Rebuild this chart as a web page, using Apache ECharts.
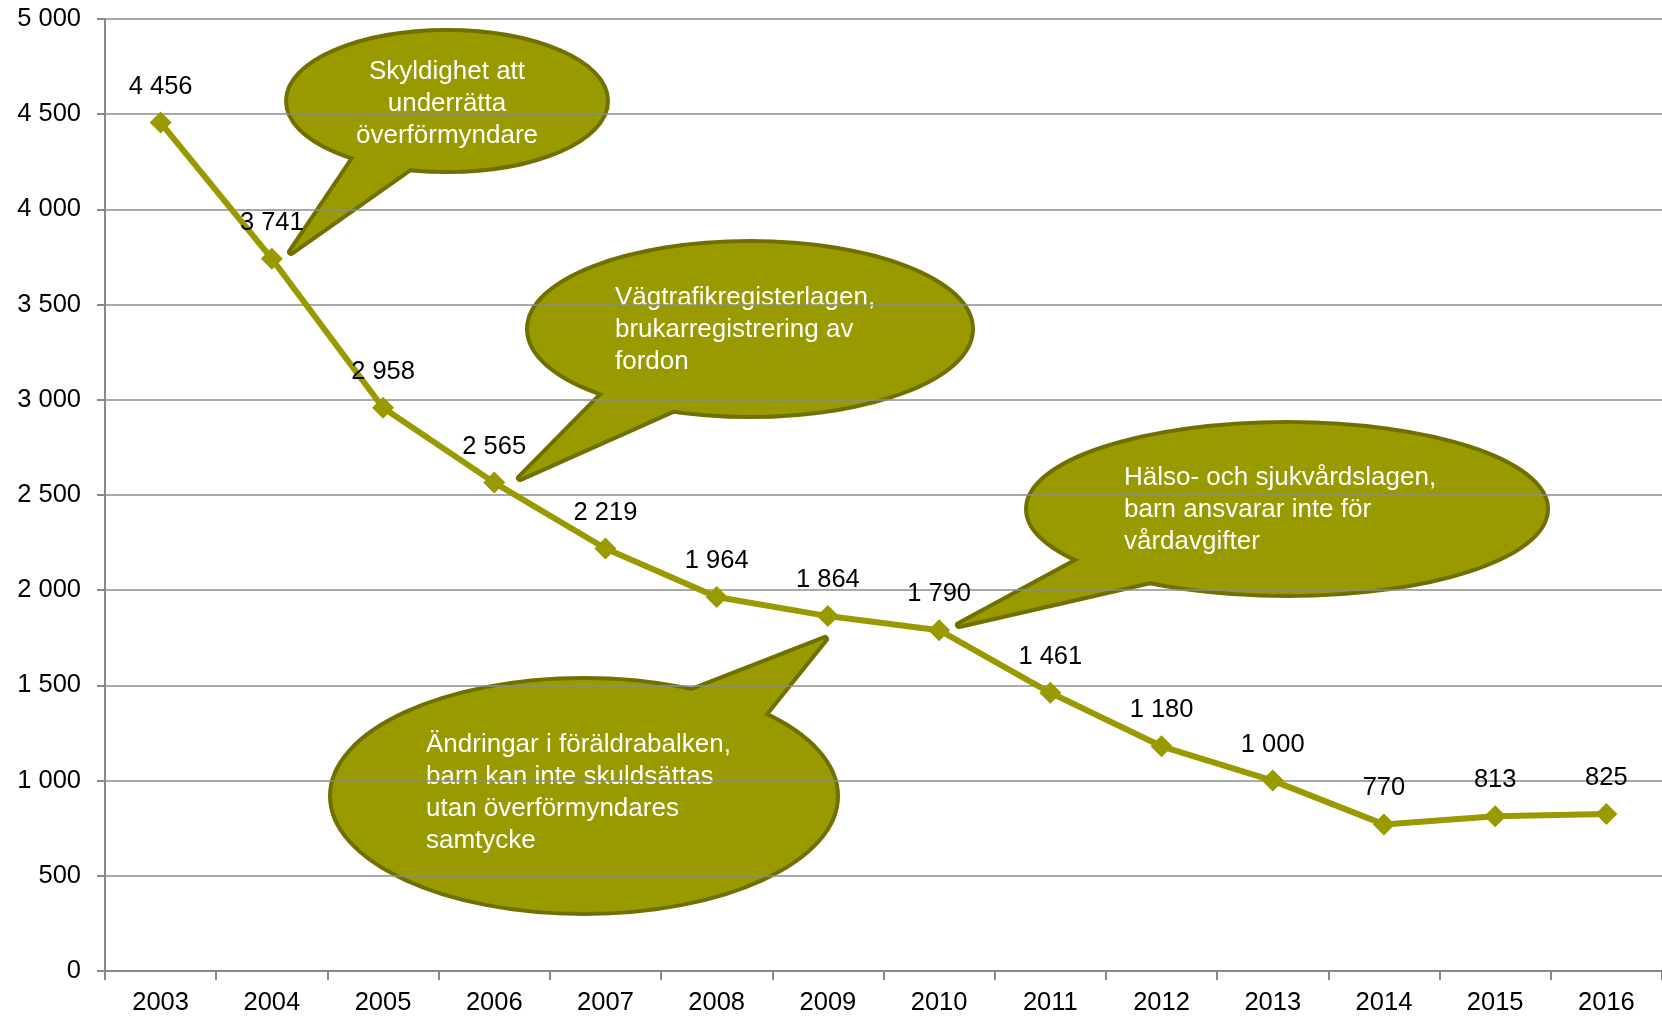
<!DOCTYPE html>
<html>
<head>
<meta charset="utf-8">
<script src="https://cdn.jsdelivr.net/npm/echarts@6/dist/echarts.min.js"></script>
<style>
  html, body { margin: 0; padding: 0; background: #fff; }
  #chart { width: 1662px; height: 1017px; }
</style>
</head>
<body>
<div id="chart"></div>
<script>
const years = ['2003', '2004', '2005', '2006', '2007', '2008', '2009', '2010', '2011', '2012', '2013', '2014', '2015', '2016'];
const counts = [4456, 3741, 2958, 2565, 2219, 1964, 1864, 1790, 1461, 1180, 1000, 770, 813, 825];

const callouts = [
    { lines: ['Skyldighet att', 'underrätta', 'överförmyndare'], align: 'center' },
    { lines: ['Vägtrafikregisterlagen,', 'brukarregistrering av', 'fordon'], align: 'left' },
    { lines: ['Hälso- och sjukvårdslagen,', 'barn ansvarar inte för', 'vårdavgifter'], align: 'left' },
    { lines: ['Ändringar i föräldrabalken,', 'barn kan inte skuldsättas', 'utan överförmyndares', 'samtycke'], align: 'left' }
];

const olive = '#999900';
const oliveDark = '#707000';
const font = '"Liberation Sans", Arial, sans-serif';

// speech bubbles in pixels: ellipse, tail (two points on the rim + tip), text anchor
const bubbleShapes = [
    { cx: 447, cy: 101, rx: 159, ry: 69, rim: [[355, 157], [413, 166]], tip: [291, 252], tx: 447, ty: 72 },
    { cx: 750, cy: 329, rx: 221, ry: 86, rim: [[605, 392], [677, 408]], tip: [520, 478], tx: 615, ty: 298 },
    { cx: 1287, cy: 509, rx: 259, ry: 85, rim: [[1081, 559], [1155, 580]], tip: [959, 625], tx: 1124, ty: 478 },
    { cx: 584, cy: 796, rx: 252, ry: 116, rim: [[684, 694], [763, 716]], tip: [825, 639], tx: 426, ty: 745 }
];

function fmt(v) {
    return String(v).replace(/\B(?=(\d{3})+(?!\d))/g, ' ');
}

function bubble(c, s) {
    // push the rim points a bit into the ellipse so the tail joins it cleanly
    const inner = s.rim.map(p => [p[0] + (p[0] - s.tip[0]) * 0.2, p[1] + (p[1] - s.tip[1]) * 0.2]);
    const tail = [inner[0], s.tip, inner[1]];
    const ell = { cx: s.cx, cy: s.cy, rx: s.rx, ry: s.ry };
    const children = [
        { type: 'ellipse', shape: ell, style: { fill: olive, stroke: oliveDark, lineWidth: 8 } },
        { type: 'polygon', shape: { points: tail }, style: { fill: olive, stroke: oliveDark, lineWidth: 8, lineJoin: 'round' } },
        { type: 'ellipse', shape: ell, style: { fill: olive } },
        { type: 'polygon', shape: { points: tail }, style: { fill: olive } }
    ];
    c.lines.forEach((line, i) => {
        children.push({
            type: 'text',
            x: s.tx,
            y: s.ty + i * 32,
            style: {
                text: line, fill: '#fff', fontSize: 26, fontFamily: font,
                align: c.align, verticalAlign: 'middle'
            }
        });
    });
    return { type: 'group', z: 100, children: children };
}

const chart = echarts.init(document.getElementById('chart'));
chart.setOption({
    animation: false,
    backgroundColor: '#fff',
    grid: { left: 105, right: 0, top: 19, bottom: 46, containLabel: false },
    xAxis: {
        type: 'category',
        data: years,
        boundaryGap: true,
        axisLine: { lineStyle: { color: '#888', width: 2 } },
        axisTick: { show: true, length: 9, lineStyle: { color: '#888', width: 2 } },
        axisLabel: { color: '#000', fontSize: 25.5, fontFamily: font, margin: 19 }
    },
    yAxis: {
        type: 'value',
        min: 0,
        max: 5000,
        interval: 500,
        axisLine: { show: true, lineStyle: { color: '#888', width: 2 } },
        axisTick: { show: true, length: 8, lineStyle: { color: '#888', width: 2 } },
        axisLabel: { color: '#000', fontSize: 25.5, fontFamily: font, margin: 24, formatter: fmt },
        splitLine: { lineStyle: { color: '#8c8c8c', width: 1.5 } }
    },
    series: [{
        type: 'line',
        data: counts,
        symbol: 'diamond',
        symbolSize: 22,
        lineStyle: { color: olive, width: 6 },
        itemStyle: { color: olive },
        label: {
            show: true,
            position: 'top',
            distance: 12,
            color: '#000',
            fontSize: 25.5,
            fontFamily: font,
            formatter: p => fmt(p.value)
        }
    }],
    graphic: callouts.map((c, i) => bubble(c, bubbleShapes[i]))
});
</script>
</body>
</html>
